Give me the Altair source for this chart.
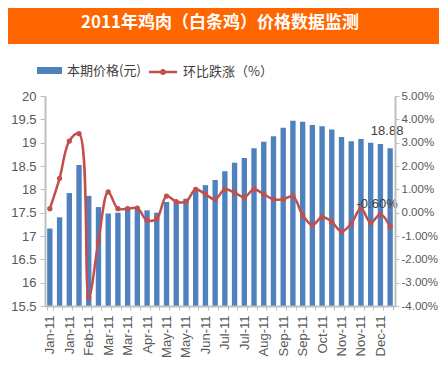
import altair as alt
import pandas as pd

# ---- data ----
periods = [f"{m}-11 {p}" for m in ["Jan", "Feb", "Mar", "Apr", "May", "Jun",
                                    "Jul", "Aug", "Sep", "Oct", "Nov", "Dec"]
           for p in ["上旬", "中旬", "下旬"]]
tick_labels = ["Jan-11", "Jan-11", "Feb-11", "Mar-11", "Mar-11", "Apr-11",
               "May-11", "May-11", "Jun-11", "Jul-11", "Jul-11", "Aug-11",
               "Sep-11", "Sep-11", "Oct-11", "Nov-11", "Nov-11", "Dec-11"]
price = [17.16, 17.40, 17.92, 18.52, 17.86, 17.62, 17.48, 17.50, 17.56, 17.58,
         17.55, 17.50, 17.73, 17.71, 17.80, 17.99, 18.09, 18.20, 18.39, 18.57,
         18.67, 18.88, 19.02, 19.14, 19.32, 19.47, 19.45, 19.38, 19.35, 19.28,
         19.12, 19.03, 19.08, 19.00, 18.97, 18.88]
change_pct = [0.17, 1.47, 3.07, 3.39, -3.64, -1.21, 0.89, 0.17, 0.17, 0.19,
              -0.33, -0.25, 0.71, 0.47, 0.47, 1.00, 0.79, 0.57, 1.00, 0.86,
              0.66, 1.00, 0.79, 0.57, 0.57, 0.71, -0.11, -0.53, -0.19, -0.40,
              -0.81, -0.47, 0.19, -0.43, -0.07, -0.60]
bar_name = "本期价格(元)"
line_name = "环比跌涨（%）"
title_text = "2011年鸡肉（白条鸡）价格数据监测"

df = pd.DataFrame({
    "idx": list(range(len(periods))),
    "period": periods,
    "price": price,
    "chg": [v / 100 for v in change_pct],
    "s1": bar_name,
    "s2": line_name,
})
df["price_label"] = [f"{v:.2f}" for v in price]
last = df.iloc[[-1]]

full_labels = []
for t in tick_labels:
    full_labels += [t, ""]
label_expr = "[" + ",".join(f"'{t}'" for t in full_labels) + "][datum.value]"

W, H = 350, 210
PAD = {"left": 37, "top": 88, "right": 44, "bottom": 63}

BLUE = "#4F81BD"
RED = "#C0504D"
AXIS_GRAY = "#BFBFBF"
LABEL = "#595959"

axis_style = dict(zindex=1, grid=False, domainColor=AXIS_GRAY, domainWidth=2,
                  tickColor=AXIS_GRAY, tickWidth=1, labelColor=LABEL,
                  labelFont="Liberation Sans", title=None)

x_enc = alt.X(
    "idx:O",
    scale=alt.Scale(paddingInner=0.45, paddingOuter=0.225),
    axis=alt.Axis(labelExpr=label_expr, labelAngle=-90, labelFontSize=13,
                  labelOverlap=False, tickBand="extent", tickSize=4,
                  labelPadding=5, **axis_style),
)

y_left = alt.Y(
    "price:Q",
    scale=alt.Scale(domain=[15.5, 20], nice=False, zero=False),
    axis=alt.Axis(orient="left", labelFontSize=13,
                  values=[15.5, 16, 16.5, 17, 17.5, 18, 18.5, 19, 19.5, 20],
                  labelExpr="datum.value", tickSize=5, labelPadding=4,
                  **axis_style),
)
y_right = alt.Y(
    "chg:Q",
    scale=alt.Scale(domain=[-0.04, 0.05], nice=False, zero=False),
    axis=alt.Axis(orient="right", labelFontSize=11.5,
                  values=[-0.04, -0.03, -0.02, -0.01, 0, 0.01, 0.02, 0.03, 0.04, 0.05],
                  labelExpr="replace(format(datum.value, '.2%'), '\u2212', '-')",
                  tickSize=4, labelPadding=2, **axis_style),
)

bar_sym = "M-1,-0.28H1V0.28H-1Z"
line_sym = ("M-1,-0.09H1V0.09H-1Z "
            "M0.22,0A0.22,0.22,0,1,1,-0.22,0A0.22,0.22,0,1,1,0.22,0Z")

# white panel below the orange header (decoration)
bg = alt.Chart(alt.Data(values=[{"k": 1}])).mark_rect(color="white").encode(
    x=alt.value(-47), x2=alt.value(404), y=alt.value(-52), y2=alt.value(283)
)

bars = alt.Chart(df).mark_bar(opacity=1).encode(
    x=x_enc,
    y=y_left,
    y2=alt.Y2(datum=15.5),
    color=alt.Color("s1:N", scale=alt.Scale(range=[BLUE]),
                    legend=alt.Legend(title=None, orient="none",
                                      legendX=-8, legendY=-38, zindex=1,
                                      symbolType=bar_sym, symbolSize=625,
                                      symbolStrokeWidth=0, labelOffset=5)),
)
bar_label = alt.Chart(last).mark_text(
    fontSize=13, font="Liberation Sans", color="#404040",
    baseline="bottom", dx=-3, dy=-10,
).encode(x=x_enc, y=y_left, text="price_label:N")

line = alt.Chart(df).mark_line(
    color=RED, strokeWidth=2.5, interpolate="catmull-rom"
).encode(x=x_enc, y=y_right)
pts = alt.Chart(df).mark_circle(size=28, opacity=1).encode(
    x=x_enc, y=y_right,
    color=alt.Color("s2:N", scale=alt.Scale(range=[RED]),
                    legend=alt.Legend(title=None, orient="none",
                                      legendX=104, legendY=-38, zindex=1,
                                      symbolType=line_sym, symbolSize=784,
                                      symbolStrokeWidth=0, labelOffset=6)),
)
line_label = alt.Chart(last).mark_text(
    fontSize=13, font="Liberation Sans", color="#404040",
    baseline="bottom", dx=-13, dy=-16,
).encode(x=x_enc, y=y_right, text=alt.value("-0.60%"))

chart = alt.layer(
    bg,
    alt.layer(bars, bar_label),
    alt.layer(line, pts, line_label),
).resolve_scale(
    y="independent", color="independent"
).properties(
    width=W, height=H,
    autosize=alt.AutoSizeParams(type="none"),
    padding=PAD,
    title=alt.TitleParams(text=title_text, color="white",
                          font="Noto Sans CJK SC", fontSize=17,
                          fontWeight="bold", anchor="middle",
                          baseline="middle", offset=4, zindex=1),
).configure(
    background="#FF6600",
).configure_view(
    strokeWidth=0,
).configure_legend(
    labelFont="Noto Sans CJK SC", labelFontSize=13,
    labelColor="#404040", padding=0,
)

chart.save("out.html", embed_options={"renderer": "svg", "actions": False})
